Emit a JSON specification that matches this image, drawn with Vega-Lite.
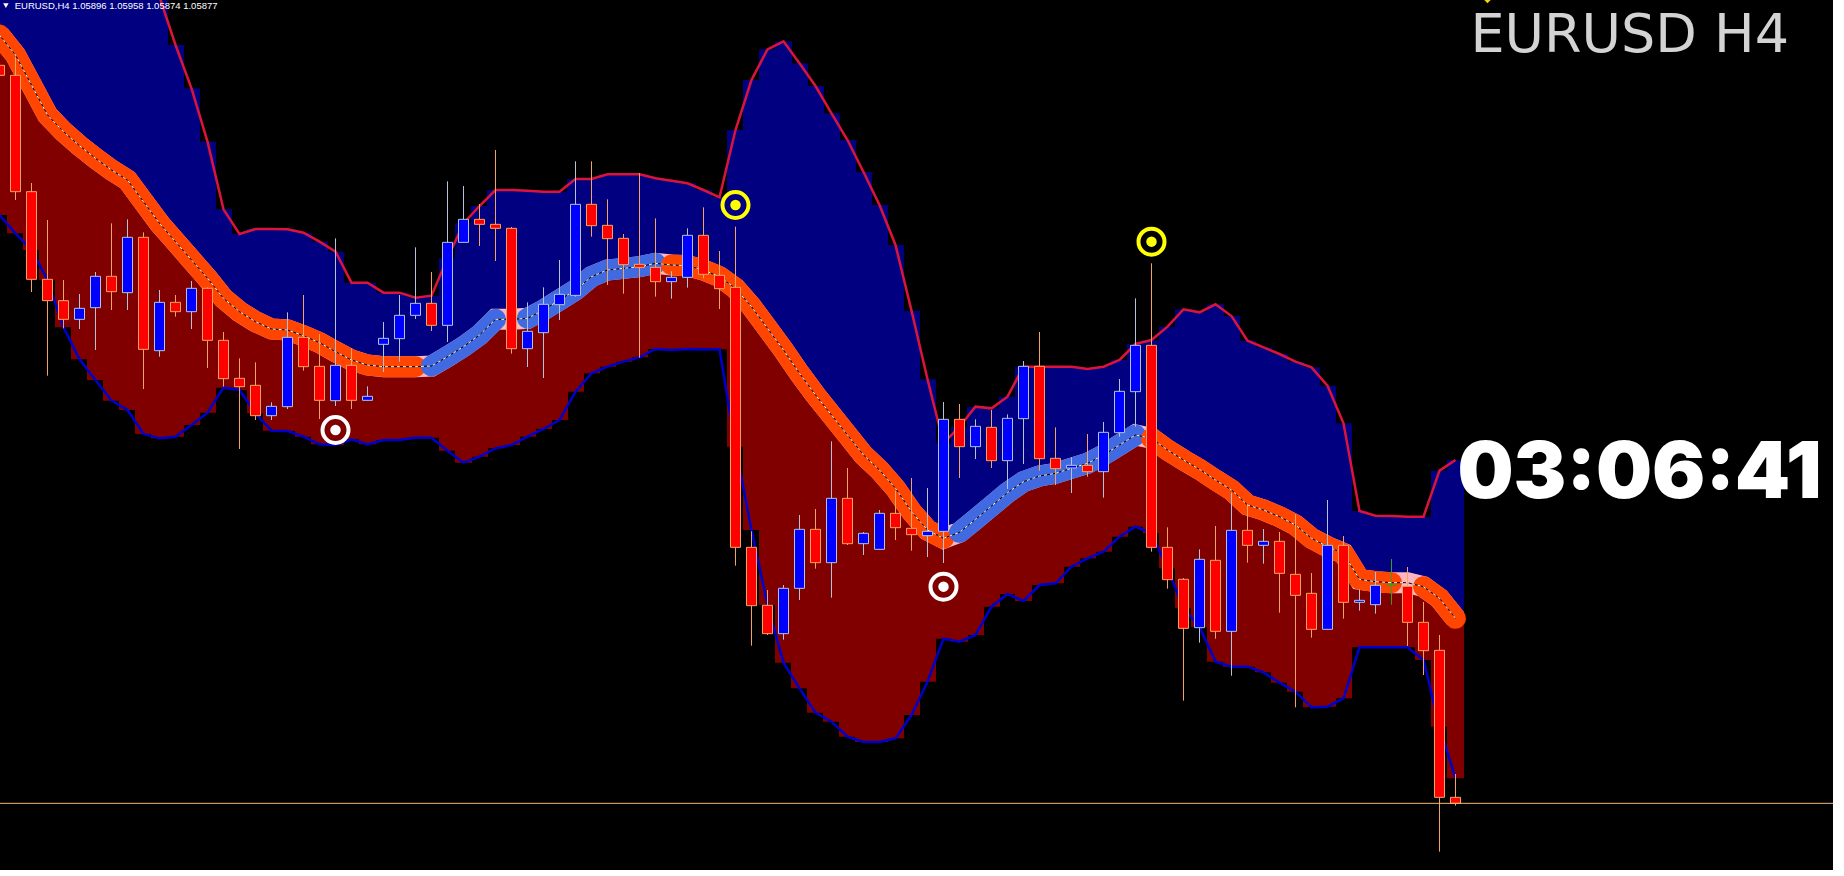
{"$schema":"https://vega.github.io/schema/vega-lite/v6.json","width":1833,"height":870,"padding":0,"autosize":{"type":"none"},"background":"#ffffff","config":{"view":{"stroke":null,"fill":"#000000"}},
"datasets":{"bars":[
{"bar":-1,"open":1.0809,"high":1.08106,"low":1.08046,"close":1.0806,"upper":1.09046,"middle":1.08181,"lower":1.07641,"segment":"s1","trend":"down"},
{"bar":0,"open":1.0806,"high":1.08116,"low":1.07686,"close":1.07711,"upper":1.09036,"middle":1.08121,"lower":1.07586,"segment":"s1","trend":"down"},
{"bar":1,"open":1.07711,"high":1.07737,"low":1.0741,"close":1.07448,"upper":1.09016,"middle":1.08031,"lower":1.07536,"segment":"s1","trend":"down"},
{"bar":2,"open":1.07448,"high":1.07626,"low":1.07159,"close":1.07384,"upper":1.08986,"middle":1.07941,"lower":1.07446,"segment":"s1","trend":"down"},
{"bar":3,"open":1.07384,"high":1.07446,"low":1.07301,"close":1.07328,"upper":1.08946,"middle":1.07891,"lower":1.07304,"segment":"s1","trend":"down"},
{"bar":4,"open":1.07328,"high":1.07404,"low":1.07299,"close":1.07361,"upper":1.08886,"middle":1.07849,"lower":1.07208,"segment":"s1","trend":"down"},
{"bar":5,"open":1.07363,"high":1.0747,"low":1.07236,"close":1.07457,"upper":1.08806,"middle":1.07811,"lower":1.07146,"segment":"s1","trend":"down"},
{"bar":6,"open":1.07457,"high":1.07616,"low":1.07356,"close":1.07411,"upper":1.08706,"middle":1.07776,"lower":1.07084,"segment":"s1","trend":"down"},
{"bar":7,"open":1.07408,"high":1.07628,"low":1.07356,"close":1.07574,"upper":1.08586,"middle":1.07746,"lower":1.07056,"segment":"s1","trend":"down"},
{"bar":8,"open":1.07574,"high":1.07589,"low":1.07119,"close":1.07238,"upper":1.08446,"middle":1.07681,"lower":1.06984,"segment":"s1","trend":"down"},
{"bar":9,"open":1.07234,"high":1.07416,"low":1.07216,"close":1.07379,"upper":1.08296,"middle":1.07616,"lower":1.06971,"segment":"s1","trend":"down"},
{"bar":10,"open":1.07379,"high":1.07401,"low":1.07336,"close":1.07351,"upper":1.08151,"middle":1.07561,"lower":1.06976,"segment":"s1","trend":"down"},
{"bar":11,"open":1.07351,"high":1.07443,"low":1.07299,"close":1.07421,"upper":1.08021,"middle":1.07506,"lower":1.07011,"segment":"s1","trend":"down"},
{"bar":12,"open":1.07421,"high":1.07424,"low":1.07182,"close":1.07265,"upper":1.07861,"middle":1.07451,"lower":1.07048,"segment":"s1","trend":"down"},
{"bar":13,"open":1.07265,"high":1.0729,"low":1.07126,"close":1.0715,"upper":1.07658,"middle":1.07391,"lower":1.07123,"segment":"s1","trend":"down"},
{"bar":14,"open":1.07151,"high":1.07211,"low":1.06939,"close":1.07126,"upper":1.07584,"middle":1.07351,"lower":1.07116,"segment":"s1","trend":"down"},
{"bar":15,"open":1.0713,"high":1.07199,"low":1.07026,"close":1.07039,"upper":1.07599,"middle":1.07321,"lower":1.07046,"segment":"s1","trend":"down"},
{"bar":16,"open":1.07039,"high":1.07079,"low":1.07026,"close":1.07067,"upper":1.07599,"middle":1.07299,"lower":1.06994,"segment":"s1","trend":"down"},
{"bar":17,"open":1.07066,"high":1.07349,"low":1.07059,"close":1.07274,"upper":1.07598,"middle":1.07296,"lower":1.06993,"segment":"s1","trend":"down"},
{"bar":18,"open":1.07274,"high":1.07401,"low":1.07174,"close":1.07186,"upper":1.07588,"middle":1.07279,"lower":1.06976,"segment":"s1","trend":"down"},
{"bar":19,"open":1.07187,"high":1.07284,"low":1.07029,"close":1.07085,"upper":1.07561,"middle":1.07258,"lower":1.06953,"segment":"s1","trend":"down"},
{"bar":20,"open":1.07084,"high":1.07571,"low":1.07068,"close":1.0719,"upper":1.07531,"middle":1.07231,"lower":1.06951,"segment":"s1","trend":"down"},
{"bar":21,"open":1.0719,"high":1.07241,"low":1.07059,"close":1.07085,"upper":1.07438,"middle":1.07206,"lower":1.06968,"segment":"s1","trend":"down"},
{"bar":22,"open":1.07085,"high":1.07127,"low":1.07085,"close":1.07097,"upper":1.07438,"middle":1.07191,"lower":1.06953,"segment":"s1","trend":"down"},
{"bar":23,"open":1.07253,"high":1.0732,"low":1.0717,"close":1.07271,"upper":1.07408,"middle":1.07186,"lower":1.06966,"segment":"s1","trend":"down"},
{"bar":24,"open":1.0727,"high":1.07401,"low":1.07201,"close":1.0734,"upper":1.07408,"middle":1.07186,"lower":1.06966,"segment":"s1","trend":"down"},
{"bar":25,"open":1.0734,"high":1.07544,"low":1.07329,"close":1.07376,"upper":1.07393,"middle":1.07186,"lower":1.06973,"segment":"s1","trend":"down"},
{"bar":26,"open":1.07376,"high":1.0747,"low":1.07293,"close":1.0731,"upper":1.07399,"middle":1.07188,"lower":1.06973,"segment":"s2","trend":"up"},
{"bar":27,"open":1.0731,"high":1.07742,"low":1.0726,"close":1.07559,"upper":1.07511,"middle":1.07216,"lower":1.06934,"segment":"s2","trend":"up"},
{"bar":28,"open":1.07559,"high":1.07728,"low":1.07559,"close":1.07628,"upper":1.07616,"middle":1.07246,"lower":1.06898,"segment":"s2","trend":"up"},
{"bar":29,"open":1.07628,"high":1.07674,"low":1.07548,"close":1.07613,"upper":1.07668,"middle":1.07281,"lower":1.06916,"segment":"s2","trend":"up"},
{"bar":30,"open":1.07613,"high":1.07836,"low":1.07503,"close":1.07601,"upper":1.07716,"middle":1.07328,"lower":1.06941,"segment":"s2","trend":"up"},
{"bar":31,"open":1.07601,"high":1.07605,"low":1.07225,"close":1.0724,"upper":1.07716,"middle":1.07328,"lower":1.06951,"segment":"gap1","trend":"flat"},
{"bar":32,"open":1.0724,"high":1.07379,"low":1.07185,"close":1.07292,"upper":1.07714,"middle":1.07331,"lower":1.06976,"segment":"s3","trend":"up"},
{"bar":33,"open":1.07288,"high":1.07424,"low":1.07152,"close":1.07373,"upper":1.07711,"middle":1.07356,"lower":1.06999,"segment":"s3","trend":"up"},
{"bar":34,"open":1.07372,"high":1.07506,"low":1.07326,"close":1.07403,"upper":1.07711,"middle":1.07386,"lower":1.07026,"segment":"s3","trend":"up"},
{"bar":35,"open":1.074,"high":1.07802,"low":1.07396,"close":1.07673,"upper":1.07749,"middle":1.07416,"lower":1.07111,"segment":"s3","trend":"up"},
{"bar":36,"open":1.07673,"high":1.07802,"low":1.07576,"close":1.07609,"upper":1.07749,"middle":1.07456,"lower":1.07166,"segment":"s3","trend":"up"},
{"bar":37,"open":1.0761,"high":1.07688,"low":1.07431,"close":1.0757,"upper":1.07763,"middle":1.07476,"lower":1.07186,"segment":"s3","trend":"up"},
{"bar":38,"open":1.07571,"high":1.07584,"low":1.07405,"close":1.07492,"upper":1.07763,"middle":1.07481,"lower":1.07201,"segment":"s3","trend":"up"},
{"bar":39,"open":1.07493,"high":1.07767,"low":1.07213,"close":1.07484,"upper":1.07763,"middle":1.07486,"lower":1.07214,"segment":"s3","trend":"up"},
{"bar":40,"open":1.07484,"high":1.07631,"low":1.07396,"close":1.07441,"upper":1.07751,"middle":1.07496,"lower":1.07239,"segment":"s3","trend":"up"},
{"bar":41,"open":1.07441,"high":1.07472,"low":1.0739,"close":1.07454,"upper":1.07744,"middle":1.07491,"lower":1.07236,"segment":"s4","trend":"down"},
{"bar":42,"open":1.07454,"high":1.07601,"low":1.07423,"close":1.0758,"upper":1.07736,"middle":1.07489,"lower":1.07239,"segment":"s4","trend":"down"},
{"bar":43,"open":1.0758,"high":1.07664,"low":1.07451,"close":1.07463,"upper":1.07716,"middle":1.07476,"lower":1.07238,"segment":"s4","trend":"down"},
{"bar":44,"open":1.0746,"high":1.07533,"low":1.07359,"close":1.0742,"upper":1.07694,"middle":1.07456,"lower":1.07238,"segment":"s4","trend":"down"},
{"bar":45,"open":1.07424,"high":1.07606,"low":1.06589,"close":1.06644,"upper":1.07896,"middle":1.07421,"lower":1.06946,"segment":"s4","trend":"down"},
{"bar":46,"open":1.06644,"high":1.06692,"low":1.06349,"close":1.06469,"upper":1.08046,"middle":1.07366,"lower":1.06696,"segment":"s4","trend":"down"},
{"bar":47,"open":1.0647,"high":1.06516,"low":1.06381,"close":1.06385,"upper":1.08138,"middle":1.07301,"lower":1.06471,"segment":"s4","trend":"down"},
{"bar":48,"open":1.06385,"high":1.06531,"low":1.06367,"close":1.06521,"upper":1.08162,"middle":1.07236,"lower":1.06298,"segment":"s4","trend":"down"},
{"bar":49,"open":1.06521,"high":1.06741,"low":1.06486,"close":1.06698,"upper":1.08096,"middle":1.07166,"lower":1.06221,"segment":"s4","trend":"down"},
{"bar":50,"open":1.06698,"high":1.06759,"low":1.0658,"close":1.06598,"upper":1.08028,"middle":1.07101,"lower":1.06148,"segment":"s4","trend":"down"},
{"bar":51,"open":1.06598,"high":1.06962,"low":1.06493,"close":1.06791,"upper":1.07946,"middle":1.07041,"lower":1.06121,"segment":"s4","trend":"down"},
{"bar":52,"open":1.06791,"high":1.06882,"low":1.06651,"close":1.06655,"upper":1.07866,"middle":1.06981,"lower":1.06076,"segment":"s4","trend":"down"},
{"bar":53,"open":1.06655,"high":1.0669,"low":1.06621,"close":1.06686,"upper":1.0777,"middle":1.06921,"lower":1.0606,"segment":"s4","trend":"down"},
{"bar":54,"open":1.06638,"high":1.06756,"low":1.06638,"close":1.06746,"upper":1.07671,"middle":1.06876,"lower":1.0606,"segment":"s4","trend":"down"},
{"bar":55,"open":1.06746,"high":1.06814,"low":1.06666,"close":1.06703,"upper":1.07551,"middle":1.06821,"lower":1.06071,"segment":"s4","trend":"down"},
{"bar":56,"open":1.06701,"high":1.06852,"low":1.06634,"close":1.06682,"upper":1.07354,"middle":1.06751,"lower":1.06141,"segment":"s4","trend":"down"},
{"bar":57,"open":1.06679,"high":1.06822,"low":1.06615,"close":1.06692,"upper":1.07148,"middle":1.06696,"lower":1.06241,"segment":"s4","trend":"down"},
{"bar":58,"open":1.06692,"high":1.0708,"low":1.06597,"close":1.07028,"upper":1.06956,"middle":1.06671,"lower":1.0637,"segment":"s4","trend":"down"},
{"bar":59,"open":1.07028,"high":1.07074,"low":1.06852,"close":1.06946,"upper":1.07006,"middle":1.06689,"lower":1.06361,"segment":"s5","trend":"up"},
{"bar":60,"open":1.06946,"high":1.07028,"low":1.06909,"close":1.07007,"upper":1.07066,"middle":1.06728,"lower":1.06381,"segment":"s5","trend":"up"},
{"bar":61,"open":1.07004,"high":1.07056,"low":1.06882,"close":1.06904,"upper":1.07061,"middle":1.06768,"lower":1.06466,"segment":"s5","trend":"up"},
{"bar":62,"open":1.06904,"high":1.07043,"low":1.06819,"close":1.07031,"upper":1.07096,"middle":1.06808,"lower":1.06504,"segment":"s5","trend":"up"},
{"bar":63,"open":1.0703,"high":1.07203,"low":1.06894,"close":1.07187,"upper":1.07186,"middle":1.06841,"lower":1.06483,"segment":"s5","trend":"up"},
{"bar":64,"open":1.07187,"high":1.0729,"low":1.06874,"close":1.0691,"upper":1.07186,"middle":1.06858,"lower":1.06531,"segment":"s5","trend":"up"},
{"bar":65,"open":1.06911,"high":1.07004,"low":1.06831,"close":1.0688,"upper":1.07186,"middle":1.06866,"lower":1.06536,"segment":"s5","trend":"up"},
{"bar":66,"open":1.06882,"high":1.06914,"low":1.06807,"close":1.0689,"upper":1.07186,"middle":1.06881,"lower":1.06586,"segment":"s5","trend":"up"},
{"bar":67,"open":1.0689,"high":1.06984,"low":1.06856,"close":1.06871,"upper":1.07179,"middle":1.06896,"lower":1.06611,"segment":"s5","trend":"up"},
{"bar":68,"open":1.06871,"high":1.0702,"low":1.06793,"close":1.06989,"upper":1.07186,"middle":1.06921,"lower":1.06631,"segment":"s5","trend":"up"},
{"bar":69,"open":1.06988,"high":1.07149,"low":1.06976,"close":1.07112,"upper":1.07206,"middle":1.06951,"lower":1.06676,"segment":"s5","trend":"up"},
{"bar":70,"open":1.07111,"high":1.07391,"low":1.07006,"close":1.0725,"upper":1.07254,"middle":1.06981,"lower":1.06706,"segment":"s5","trend":"up"},
{"bar":71,"open":1.0725,"high":1.07496,"low":1.06631,"close":1.06644,"upper":1.07266,"middle":1.06971,"lower":1.06686,"segment":"s6","trend":"down"},
{"bar":72,"open":1.06644,"high":1.06704,"low":1.0652,"close":1.06547,"upper":1.07306,"middle":1.06936,"lower":1.06581,"segment":"s6","trend":"down"},
{"bar":73,"open":1.06548,"high":1.06552,"low":1.06184,"close":1.06401,"upper":1.07358,"middle":1.06906,"lower":1.06461,"segment":"s6","trend":"down"},
{"bar":74,"open":1.06403,"high":1.06638,"low":1.06358,"close":1.06608,"upper":1.07349,"middle":1.06878,"lower":1.06406,"segment":"s6","trend":"down"},
{"bar":75,"open":1.06605,"high":1.06708,"low":1.0637,"close":1.06392,"upper":1.07373,"middle":1.06846,"lower":1.06301,"segment":"s6","trend":"down"},
{"bar":76,"open":1.06392,"high":1.06808,"low":1.06259,"close":1.06695,"upper":1.07338,"middle":1.06816,"lower":1.06286,"segment":"s6","trend":"down"},
{"bar":77,"open":1.06695,"high":1.06774,"low":1.06598,"close":1.0665,"upper":1.07264,"middle":1.06771,"lower":1.06286,"segment":"s6","trend":"down"},
{"bar":78,"open":1.0665,"high":1.06699,"low":1.06595,"close":1.06662,"upper":1.07244,"middle":1.06756,"lower":1.06269,"segment":"s6","trend":"down"},
{"bar":79,"open":1.06662,"high":1.0669,"low":1.06448,"close":1.06566,"upper":1.07224,"middle":1.06736,"lower":1.06238,"segment":"s6","trend":"down"},
{"bar":80,"open":1.06563,"high":1.06743,"low":1.06164,"close":1.065,"upper":1.07201,"middle":1.06711,"lower":1.06211,"segment":"s6","trend":"down"},
{"bar":81,"open":1.06506,"high":1.06567,"low":1.06373,"close":1.06398,"upper":1.07184,"middle":1.06671,"lower":1.06164,"segment":"s6","trend":"down"},
{"bar":82,"open":1.06398,"high":1.06786,"low":1.06398,"close":1.0665,"upper":1.07129,"middle":1.06646,"lower":1.06166,"segment":"s6","trend":"down"},
{"bar":83,"open":1.0665,"high":1.06678,"low":1.0643,"close":1.06479,"upper":1.07016,"middle":1.06626,"lower":1.06191,"segment":"s6","trend":"down"},
{"bar":84,"open":1.06479,"high":1.06518,"low":1.06454,"close":1.06485,"upper":1.06753,"middle":1.06548,"lower":1.06344,"segment":"s6","trend":"down"},
{"bar":85,"open":1.06472,"high":1.0657,"low":1.06445,"close":1.0653,"upper":1.06739,"middle":1.06541,"lower":1.06344,"segment":"s6","trend":"down"},
{"bar":86,"open":1.0653,"high":1.06609,"low":1.06472,"close":1.0653,"upper":1.06738,"middle":1.06538,"lower":1.06344,"segment":"s6","trend":"down"},
{"bar":87,"open":1.06527,"high":1.06585,"low":1.06348,"close":1.06419,"upper":1.06736,"middle":1.06538,"lower":1.06344,"segment":"gap2","trend":"flat"},
{"bar":88,"open":1.06419,"high":1.0648,"low":1.06261,"close":1.06334,"upper":1.06736,"middle":1.06526,"lower":1.06306,"segment":"s7","trend":"down"},
{"bar":89,"open":1.06335,"high":1.06381,"low":1.05731,"close":1.05894,"upper":1.06874,"middle":1.06491,"lower":1.06106,"segment":"s7","trend":"down"},
{"bar":90,"open":1.05894,"high":1.05964,"low":1.05869,"close":1.05876,"upper":1.06906,"middle":1.06431,"lower":1.05951,"segment":"s7","trend":"down"}
],
"signals":[{"bar":20,"price":1.06996,"kind":"low"},{"bar":58,"price":1.06526,"kind":"low"},{"bar":45,"price":1.07671,"kind":"high"},{"bar":71,"price":1.07561,"kind":"high"}]},
"encoding":{"x":{"field":"bar","type":"quantitative","axis":null,"scale":{"domain":[-0.96875,113.59375],"nice":false,"zero":false,"padding":0}}},
"layer":[
{"data":{"name":"bars"},"mark":{"type":"bar","size":17,"color":"#000080","clip":true},"encoding":{"y":{"field":"upper","type":"quantitative","axis":null,"scale":{"domain":[1.05676,1.08286],"nice":false,"zero":false}},"y2":{"field":"middle"}}},
{"data":{"name":"bars"},"mark":{"type":"bar","size":17,"color":"#800000","clip":true},"encoding":{"y":{"field":"middle","type":"quantitative","axis":null,"scale":{"domain":[1.05676,1.08286],"nice":false,"zero":false}},"y2":{"field":"lower"}}},
{"data":{"name":"bars"},"mark":{"type":"line","color":"#DC143C","strokeWidth":2.5,"clip":true},"encoding":{"y":{"field":"upper","type":"quantitative","axis":null,"scale":{"domain":[1.05676,1.08286],"nice":false,"zero":false}}}},
{"data":{"name":"bars"},"mark":{"type":"line","color":"#0000CD","strokeWidth":2.5,"clip":true},"encoding":{"y":{"field":"lower","type":"quantitative","axis":null,"scale":{"domain":[1.05676,1.08286],"nice":false,"zero":false}}}},
{"data":{"name":"bars"},"mark":{"type":"line","color":"#FFB6C1","strokeWidth":21,"clip":true},"encoding":{"y":{"field":"middle","type":"quantitative","axis":null,"scale":{"domain":[1.05676,1.08286],"nice":false,"zero":false}}}},
{"data":{"name":"bars"},"transform":[{"filter":"datum.trend !== 'flat'"}],"mark":{"type":"line","strokeWidth":21,"strokeCap":"round","strokeJoin":"round","clip":true},"encoding":{"y":{"field":"middle","type":"quantitative","axis":null,"scale":{"domain":[1.05676,1.08286],"nice":false,"zero":false}},"detail":{"field":"segment"},"color":{"field":"trend","type":"nominal","legend":null,"scale":{"domain":["down","up"],"range":["#FF4500","#4169E1"]}}}},
{"data":{"name":"bars"},"mark":{"type":"line","color":"#000000","strokeWidth":1,"clip":true},"encoding":{"y":{"field":"middle","type":"quantitative","axis":null,"scale":{"domain":[1.05676,1.08286],"nice":false,"zero":false}}}},
{"data":{"name":"bars"},"mark":{"type":"line","color":"#FFFFFF","strokeWidth":1,"strokeDash":[3,3],"clip":true},"encoding":{"y":{"field":"middle","type":"quantitative","axis":null,"scale":{"domain":[1.05676,1.08286],"nice":false,"zero":false}}}},
{"data":{"name":"bars"},"mark":{"type":"rule","strokeWidth":1,"clip":true},"encoding":{"y":{"field":"high","type":"quantitative","axis":null,"scale":{"domain":[1.05676,1.08286],"nice":false,"zero":false}},"y2":{"field":"low"},"color":{"condition":[{"test":"datum.open === datum.close","value":"#32A020"},{"test":"datum.close < datum.open","value":"#F4A460"}],"value":"#B0C4DE"}}},
{"data":{"name":"bars"},"mark":{"type":"bar","size":10,"strokeWidth":1,"clip":true},"encoding":{"y":{"field":"open","type":"quantitative","axis":null,"scale":{"domain":[1.05676,1.08286],"nice":false,"zero":false}},"y2":{"field":"close"},"fill":{"condition":{"test":"datum.close < datum.open","value":"#FF0000"},"value":"#0000FF"},"stroke":{"condition":[{"test":"datum.open === datum.close","value":"#32A020"},{"test":"datum.close < datum.open","value":"#F4A460"}],"value":"#B0C4DE"}}},
{"data":{"values":[{"price":1.05876}]},"mark":{"type":"rule","color":"#F4B870","strokeWidth":1},"encoding":{"x":{"value":0},"x2":{"value":1833},"y":{"field":"price","type":"quantitative","axis":null,"scale":{"domain":[1.05676,1.08286],"nice":false,"zero":false}}}},
{"data":{"name":"signals"},"mark":{"type":"point","shape":"circle","filled":false,"size":676,"strokeWidth":4,"opacity":1},"encoding":{"y":{"field":"price","type":"quantitative","axis":null,"scale":{"domain":[1.05676,1.08286],"nice":false,"zero":false}},"stroke":{"field":"kind","type":"nominal","legend":null,"scale":{"domain":["low","high"],"range":["#FFFFFF","#FFFF00"]}}}},
{"data":{"name":"signals"},"mark":{"type":"point","shape":"circle","filled":true,"size":110,"opacity":1},"encoding":{"y":{"field":"price","type":"quantitative","axis":null,"scale":{"domain":[1.05676,1.08286],"nice":false,"zero":false}},"fill":{"field":"kind","type":"nominal","legend":null,"scale":{"domain":["low","high"],"range":["#FFFFFF","#FFFF00"]}}}},
{"data":{"values":[{"bar":92,"price":1.08286}]},"mark":{"type":"point","shape":"diamond","filled":true,"size":40,"color":"#FFD700","opacity":1,"clip":true},"encoding":{"y":{"field":"price","type":"quantitative","axis":null,"scale":{"domain":[1.05676,1.08286],"nice":false,"zero":false}}}},
{"data":{"values":[{"bar":-0.6,"price":1.08269}]},"mark":{"type":"point","shape":"triangle-down","filled":true,"size":30,"color":"#FFFFFF","opacity":1},"encoding":{"y":{"field":"price","type":"quantitative","axis":null,"scale":{"domain":[1.05676,1.08286],"nice":false,"zero":false}}}},
{"data":{"values":[{"bar":-0.05,"price":1.0826,"label":"EURUSD,H4  1.05896 1.05958 1.05874 1.05877"}]},"mark":{"type":"text","font":"Liberation Sans","fontSize":9.5,"color":"#FFFFFF","align":"left","baseline":"alphabetic"},"encoding":{"y":{"field":"price","type":"quantitative","axis":null,"scale":{"domain":[1.05676,1.08286],"nice":false,"zero":false}},"text":{"field":"label"}}},
{"data":{"values":[{"bar":90.93,"price":1.0813,"label":"EURUSD H4"}]},"mark":{"type":"text","font":"DejaVu Sans","fontSize":54,"color":"#D3D3D3","align":"left","baseline":"alphabetic"},"encoding":{"y":{"field":"price","type":"quantitative","axis":null,"scale":{"domain":[1.05676,1.08286],"nice":false,"zero":false}},"text":{"field":"label"}}},
{"data":{"values":[{"bar":90.12,"price":1.06792,"label":"03:06:41"}]},"mark":{"type":"text","font":"Inter","fontWeight":900,"fontSize":79,"color":"#FFFFFF","align":"left","baseline":"alphabetic"},"encoding":{"y":{"field":"price","type":"quantitative","axis":null,"scale":{"domain":[1.05676,1.08286],"nice":false,"zero":false}},"text":{"field":"label"}}}
]}
